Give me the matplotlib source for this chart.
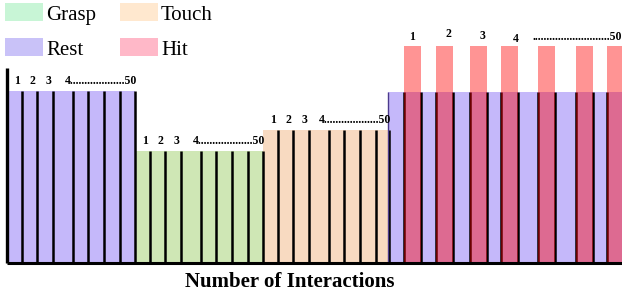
import matplotlib
matplotlib.use('Agg')
import matplotlib.pyplot as plt
from matplotlib.patches import Rectangle

# phases of the interaction sequence (x/y in pixel-like units of the schematic)
block_names = ['Rest', 'Grasp', 'Touch', 'Rest']
block_starts = [0, 128, 256, 381]
block_widths = [128, 128, 126, 234]
block_heights = [172, 112, 133.5, 171]

# positions of the interaction dividers inside each of the first three blocks
divider_offsets = [14.7, 30.3, 46, 65.5, 81, 97, 112.5]

# hit bars inside the last rest block
hit_offsets = [16, 48, 82, 113, 150, 188, 219]
hit_width = 16.5
hit_height = 217

tick_labels = ['1', '2', '3', '4', '50']

block_colors = {'Rest': '#c5b8fa', 'Grasp': '#cfe7b5', 'Touch': '#f8dac1'}
legend_names = ['Grasp', 'Touch', 'Rest', 'Hit']
legend_colors = ['#c8f5d6', '#ffe8cf', '#c9c2f8', '#ffb8c8']

W, H = 622, 295
font = 'Liberation Serif'

fig = plt.figure(figsize=(W / 100, H / 100), dpi=100)
ax = fig.add_axes([7 / W, 32 / H, 615 / W, 263 / H])
ax.set_xlim(0, 615)
ax.set_ylim(0, 263)
ax.axis('off')

for i, (name, x0, w, h) in enumerate(zip(block_names, block_starts, block_widths, block_heights)):
    ax.bar(x0, h, width=w, align='edge', color=block_colors[name], edgecolor='none', zorder=1)
    if i < 3:
        xs = [x0 + d for d in divider_offsets] + [x0 + w]
        ax.vlines(xs, 0, h, color='black', lw=1.8, zorder=2)
        # interaction numbers above the block
        for lab, dx in zip(tick_labels[:3], [10, 25.5, 41]):
            ax.text(x0 + dx, h + 9.5, lab, ha='center', va='center', fontsize=8.5,
                    fontweight='bold', family=font, clip_on=False)
        ax.text(x0 + w + 2.5, h + 9.5, tick_labels[3] + '.' * 19 + tick_labels[4], ha='right',
                va='center', fontsize=8.5, fontweight='bold', family=font, clip_on=False)

# last rest block: hits
x0 = block_starts[3]
h = block_heights[3]
ax.vlines(x0, 0, h, color='#4b3a8c', lw=1, zorder=2)
edges = []
for o in hit_offsets:
    edges += [x0 + o, x0 + o + hit_width]
ax.vlines(edges, 0, h, color='black', lw=1.8, zorder=2)
ax.bar([x0 + o for o in hit_offsets], hit_height, width=hit_width, align='edge',
       color='red', alpha=0.42, edgecolor='none', zorder=3)

hit_label_pos = [(405, 226.5), (441, 229), (475, 227), (509, 224)]
for lab, (x, y) in zip(tick_labels[:4], hit_label_pos):
    ax.text(x, y, lab, ha='center', va='center', fontsize=8.5, fontweight='bold',
            family=font, clip_on=False)
ax.text(615, 225.5, '.' * 27 + tick_labels[4], ha='right', va='center', fontsize=8.5,
        fontweight='bold', family=font, clip_on=False)

# axes lines
ax.vlines(0, 0, 195, color='black', lw=2.4, zorder=4, clip_on=False)
ax.hlines(0, 0, 615, color='black', lw=2.2, zorder=4, clip_on=False)

fig.text(290 / W, 1 - 282 / H, 'Number of Interactions', ha='center', va='center',
         fontsize=15, fontweight='bold', family=font)

# legend drawn by hand at the top-left
legend_pos = [(5, 3), (120, 3), (5, 37.7), (120, 37.7)]
for name, c, (lx, ly) in zip(legend_names, legend_colors, legend_pos):
    fig.add_artist(Rectangle((lx / W, 1 - (ly + 18.3) / H), 38 / W, 18.3 / H,
                             transform=fig.transFigure, color=c, lw=0))
    fig.text((lx + 41) / W, 1 - (ly + 17) / H, name, ha='left', va='baseline',
             fontsize=15, family=font)

fig.savefig('out.png', dpi=100)
